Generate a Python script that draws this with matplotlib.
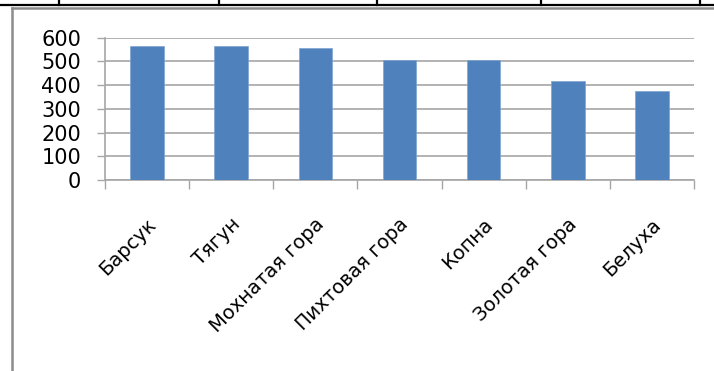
import matplotlib
matplotlib.use("Agg")
import matplotlib.pyplot as plt  # noqa: E402
from matplotlib.lines import Line2D  # noqa: E402
from matplotlib.transforms import ScaledTranslation  # noqa: E402

peaks = ["Барсук", "Тягун", "Мохнатая гора", "Пихтовая гора", "Копна",
         "Золотая гора", "Белуха"]
counts = [567, 563, 557, 507, 507, 417, 374]
yticks = [0, 100, 200, 300, 400, 500, 600]

W, H = 714, 371
BAR = "#4F81BD"
GRID = "#A6A6A6"

plt.rcParams["font.family"] = ["DejaVu Sans"]

fig = plt.figure(figsize=(W / 100, H / 100), dpi=100)


def px(x, y):
    return x / W, 1 - y / H


# Frame of the surrounding document: table row above, chart border
x0, y0 = px(0, 5)
x1, _ = px(W, 5)
fig.add_artist(Line2D([x0, x1], [y0, y0], color="black", lw=1.6))
for cx in (59, 219, 377, 541, 700):
    a, b = px(cx, 0)
    _, c = px(cx, 5)
    fig.add_artist(Line2D([a, a], [b, c], color="black", lw=1.6))
a, b = px(12, 8)
fig.add_artist(Line2D([a, 1], [b, b], color="#8C8C8C", lw=1.8))
fig.add_artist(Line2D([a, a], [b, 0], color="#8C8C8C", lw=1.8))

left, top = px(105, 37.7)
right, bottom = px(694, 180)
ax = fig.add_axes([left, bottom, right - left, top - bottom])

pos = range(len(peaks))
ax.bar(pos, counts, width=0.4, color=BAR, edgecolor="#7FA3D0", lw=0.5, zorder=3)

ax.set_xlim(-0.5, len(peaks) - 0.5)
ax.set_ylim(0, 600)
ax.set_yticks(yticks)
ax.set_yticklabels([str(v) for v in yticks], fontsize=15)
ax.yaxis.grid(True, color=GRID, lw=1.2, zorder=0)
ax.tick_params(axis="y", length=5.8, width=1, color=GRID, pad=11.5)

ax.set_xticks([p - 0.5 for p in range(len(peaks) + 1)])
ax.set_xticklabels([])
ax.set_xticks(list(pos), minor=True)
ax.set_xticklabels(peaks, minor=True, rotation=45, ha="right", va="center",
                   rotation_mode="anchor", fontsize=14)
ax.tick_params(axis="x", which="major", length=6.5, width=1, color=GRID)
ax.tick_params(axis="x", which="minor", length=0, pad=30)
# nudge the slanted labels a little right, as the original sits
shift = ScaledTranslation(6 / 100, 0, fig.dpi_scale_trans)
for lab in ax.get_xticklabels(minor=True):
    lab.set_transform(lab.get_transform() + shift)

for s in ("top", "right"):
    ax.spines[s].set_visible(False)
for s in ("left", "bottom"):
    ax.spines[s].set_color(GRID)
    ax.spines[s].set_linewidth(1.2)

fig.savefig("out.png", dpi=100)
